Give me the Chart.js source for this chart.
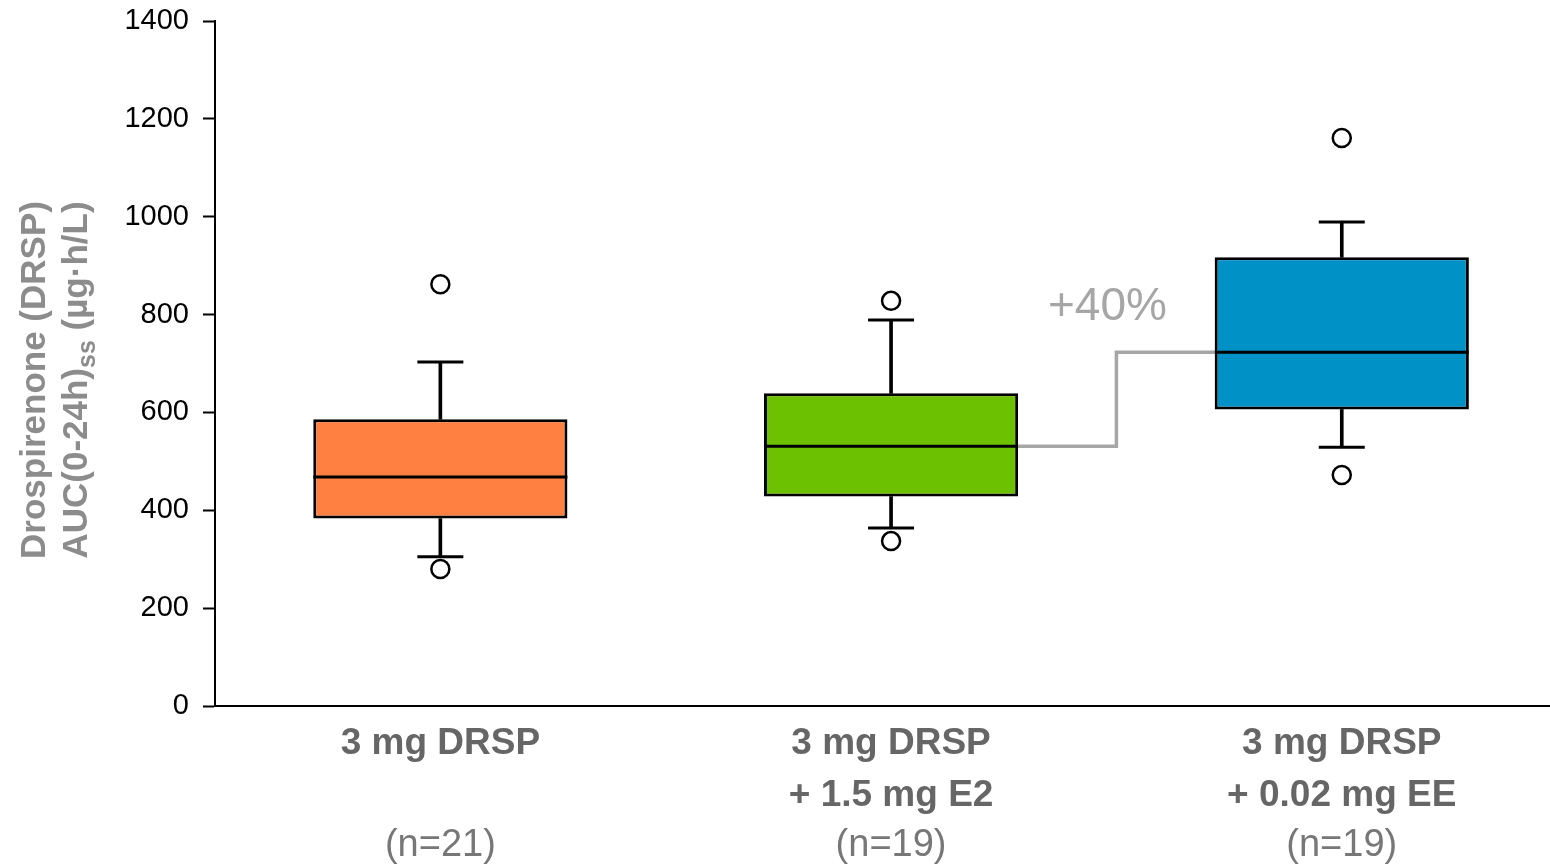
<!DOCTYPE html>
<html>
<head>
<meta charset="utf-8">
<script src="https://cdn.jsdelivr.net/npm/chart.js@4"></script>
<style>
  html, body { margin: 0; padding: 0; background: #fff; }
</style>
</head>
<body>
<canvas id="boxChart" width="1550" height="864"></canvas>
<script>
// datos
const categories = [['3 mg DRSP', ''], ['3 mg DRSP', '+ 1.5 mg E2'], ['3 mg DRSP', '+ 0.02 mg EE']];
const sampleSizes = ['(n=21)', '(n=19)', '(n=19)'];
const whiskerLow = [305, 364, 529];
const q1 = [383, 428, 606];
const median = [468, 531, 723];
const q3 = [586, 639, 917];
const whiskerHigh = [703, 789, 989];
const outliers = [[862, 280], [828, 337], [1161, 472]];
const boxColors = ['#FF8040', '#6CC200', '#0091C7'];
const yTicks = [0, 200, 400, 600, 800, 1000, 1200, 1400];
const changeLabel = '+40%';
const changeAt = { x: 1.48, y: 814 };
const yTitle = ['Drospirenone (DRSP)', 'AUC(0-24h)', 'ss', ' (µg·h/L)'];

const FONT = '"Liberation Sans", Arial, sans-serif';
const boxFraction = 0.564;          // ancho de la caja respecto a la categoria
const halfBox = boxFraction / 2;

const box = {
    type: 'bar',
    data: categories.map((c, i) => ({ x: i, y: [q1[i], q3[i]] })),
    backgroundColor: boxColors,
    borderColor: '#000',
    borderWidth: 3,
    borderSkipped: false,
    categoryPercentage: boxFraction,
    barPercentage: 1,
    grouped: false,
    order: 2
};

const stems = {
    type: 'bar',
    data: categories.flatMap((c, i) => [
        { x: i, y: [q3[i], whiskerHigh[i]] },
        { x: i, y: [whiskerLow[i], q1[i]] }
    ]),
    backgroundColor: '#000',
    borderWidth: 0,
    barThickness: 3,
    grouped: false,
    order: 4
};

const caps = {
    type: 'scatter',
    data: categories.flatMap((c, i) => [{ x: i, y: whiskerHigh[i] }, { x: i, y: whiskerLow[i] }]),
    pointStyle: 'line',
    pointRadius: 23,
    borderColor: '#000',
    borderWidth: 3,
    order: 3
};

const medians = {
    type: 'scatter',
    data: categories.map((c, i) => ({ x: i, y: median[i] })),
    pointStyle: 'line',
    pointRadius: 127,
    borderColor: '#000',
    borderWidth: 3,
    order: 1
};

const outlierPts = {
    type: 'scatter',
    data: outliers.flatMap((vals, i) => vals.map(v => ({ x: i, y: v }))),
    pointStyle: 'circle',
    pointRadius: 9,
    backgroundColor: '#fff',
    borderColor: '#000',
    borderWidth: 2.5,
    order: 0
};

// linea gris escalonada entre medianas 2 y 3
const change = {
    type: 'line',
    data: [{ x: 1 + halfBox, y: median[1] }, { x: 2 - halfBox, y: median[2] }],
    stepped: 'middle',
    borderColor: '#a6a6a6',
    borderWidth: 3.5,
    pointRadius: 0,
    fill: false,
    order: 5
};

const extras = {
    id: 'extras',
    afterDraw(chart) {
        const { ctx, scales: { x, y } } = chart;
        ctx.save();

        ctx.font = '46px ' + FONT;
        ctx.fillStyle = '#a6a6a6';
        ctx.textAlign = 'center';
        ctx.textBaseline = 'middle';
        ctx.fillText(changeLabel, x.getPixelForValue(changeAt.x), y.getPixelForValue(changeAt.y));

        ctx.font = '38px ' + FONT;
        ctx.fillStyle = '#777';
        sampleSizes.forEach((s, i) => ctx.fillText(s, x.getPixelForValue(i), x.bottom - 18));

        // titulo eje y con subindice
        const cy = 380;
        ctx.fillStyle = '#8c8c8c';
        ctx.save();
        ctx.translate(35, cy);
        ctx.rotate(-Math.PI / 2);
        ctx.font = 'bold 35px ' + FONT;
        ctx.fillText(yTitle[0], 0, 0);
        ctx.restore();

        ctx.save();
        ctx.translate(75, cy);
        ctx.rotate(-Math.PI / 2);
        ctx.textAlign = 'left';
        ctx.textBaseline = 'alphabetic';
        const big = 'bold 35px ' + FONT, small = 'bold 25px ' + FONT;
        ctx.font = big;
        const w1 = ctx.measureText(yTitle[1]).width;
        const w3 = ctx.measureText(yTitle[3]).width;
        ctx.font = small;
        const w2 = ctx.measureText(yTitle[2]).width;
        let px = -(w1 + w2 + w3) / 2;
        ctx.font = big;
        ctx.fillText(yTitle[1], px, 12);
        px += w1;
        ctx.font = small;
        ctx.fillText(yTitle[2], px, 20);
        px += w2;
        ctx.font = big;
        ctx.fillText(yTitle[3], px, 12);
        ctx.restore();

        ctx.restore();
    }
};

new Chart(document.getElementById('boxChart'), {
    type: 'bar',
    data: { datasets: [box, stems, caps, medians, outlierPts, change] },
    options: {
        responsive: false,
        animation: false,
        layout: { autoPadding: false, padding: { top: 21, left: 0, right: 0, bottom: 0 } },
        plugins: {
            legend: { display: false },
            tooltip: { enabled: false }
        },
        scales: {
            x: {
                type: 'linear',
                offset: false,
                min: -0.5,
                max: 2.462,
                afterBuildTicks: s => { s.ticks = categories.map((c, i) => ({ value: i })); },
                afterFit: s => { s.height = 158; },
                ticks: {
                    callback: v => categories[v],
                    color: '#666',
                    font: { family: FONT, size: 37, weight: 'bold', lineHeight: '52px' },
                    padding: 4,
                    maxRotation: 0,
                    autoSkip: false
                },
                grid: { display: false },
                border: { color: '#000', width: 2 }
            },
            y: {
                min: 0,
                max: 1400,
                afterBuildTicks: s => { s.ticks = yTicks.map(v => ({ value: v })); },
                afterFit: s => { s.width = 215; s.paddingTop = 0; s.paddingBottom = 0; },
                ticks: {
                    callback: v => String(v),
                    color: '#000',
                    font: { family: FONT, size: 29 },
                    padding: 14
                },
                grid: { drawOnChartArea: false, tickLength: 12, tickColor: '#000', tickWidth: 2 },
                border: { color: '#000', width: 2 }
            }
        }
    },
    plugins: [extras]
});
</script>
</body>
</html>
